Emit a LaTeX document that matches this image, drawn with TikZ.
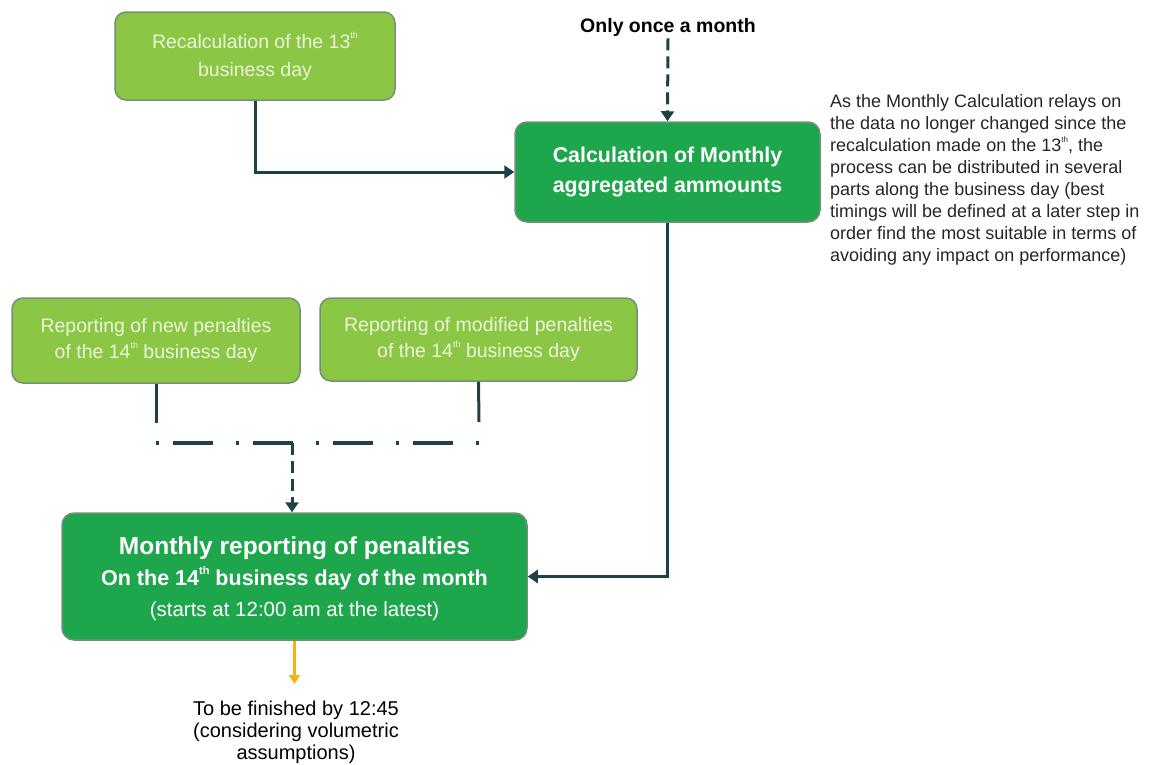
\documentclass[tikz,border=0pt]{standalone}
\usepackage{fontspec}
\setmainfont{Liberation Sans}
\usetikzlibrary{arrows.meta}
\definecolor{conn}{RGB}{30,65,72}
\definecolor{lightg}{RGB}{139,198,68}
\definecolor{darkg}{RGB}{29,166,76}
\definecolor{lighttxt}{RGB}{235,246,218}
\definecolor{bord}{RGB}{115,145,120}
\definecolor{orangea}{RGB}{245,180,20}
\newcommand\supth[1][9]{\raisebox{0.5em}{\fontsize{#1}{#1}\selectfont th}}
\tikzset{
  x=1pt,y=-1pt,
  lbox/.style={draw=bord,line width=1.5pt,fill=lightg,rounded corners=11pt,text=lighttxt,align=center,inner sep=0pt},
  dbox/.style={draw=bord,line width=1.5pt,fill=darkg,rounded corners=12pt,text=white,align=center,inner sep=0pt},
  conn/.style={draw=conn,line width=3pt,-{Triangle[length=10pt,width=13pt]}},
  cline/.style={draw=conn,line width=3pt},
  dashconn/.style={conn,dash pattern=on 12pt off 6pt},
}
\begin{document}
\begin{tikzpicture}
\useasboundingbox (0,0) rectangle (1157,764);
\node[lbox,minimum width=280pt,minimum height=88pt,font=\fontsize{19.5}{28}\selectfont] (recalc) at (255,56) {Recalculation of the 13\supth\\business day};
\node[dbox,minimum width=305pt,minimum height=100pt,font=\fontsize{21.4}{30}\selectfont\bfseries] (calc) at (667.5,172) {Calculation of Monthly\\aggregated ammounts};
\node[font=\fontsize{19.5}{22}\selectfont\bfseries,inner sep=2pt] (once) at (668,27) {Only once a month};
\node[anchor=north west,align=left,font=\fontsize{18}{22}\selectfont,text=black!85,inner sep=0pt] (note) at (830,94) {As the Monthly Calculation relays on\\the data no longer changed since the\\recalculation made on the 13\supth[8], the\\process can be distributed in several\\parts along the business day (best\\timings will be defined at a later step in\\order find the most suitable in terms of\\avoiding any impact on performance)};
\node[lbox,minimum width=288pt,minimum height=85pt,font=\fontsize{19.5}{26}\selectfont] (newpen) at (156,340.5) {Reporting of new penalties\\of the 14\supth\ business day};
\node[lbox,minimum width=317pt,minimum height=83pt,font=\fontsize{19.5}{26}\selectfont] (modpen) at (478.5,339.5) {Reporting of modified penalties\\of the 14\supth\ business day};
\node[dbox,minimum width=465pt,minimum height=127pt,font=\fontsize{20.5}{31}\selectfont,text depth=-3pt] (monthly) at (294.5,576.5) {{\fontsize{24.5}{31}\selectfont\bfseries Monthly reporting of penalties}\\{\fontsize{21.5}{31}\selectfont\bfseries On the 14\supth[11] business day of the month}\\(starts at 12:00 am at the latest)};
\node[align=center,font=\fontsize{20}{22}\selectfont,inner sep=0pt,anchor=north] (finish) at (296,701) {To be finished by 12:45\\(considering volumetric\\assumptions)};
\coordinate (j1) at (156,423);
\coordinate (j2) at (156,443);
\coordinate (j3) at (479,443);
\coordinate (j4) at (479,422);
\coordinate (jm) at (292,443);
\coordinate (fa) at (294.5,684);
\draw[conn] (recalc.south) |- (calc.west);
\draw[dashconn] (once.south) -- (calc.north);
\draw[conn] (calc.south) |- (monthly.east);
\draw[cline] (newpen.south) -- (j1);
\draw[cline] (modpen.south) -- (j4);
\draw[cline,line width=3.5pt,dash pattern=on 3pt off 14pt on 40pt off 23pt] (j2) -- (j3);
\draw[dashconn] (jm) -- (jm |- monthly.north);
\draw[draw=orangea,line width=2.5pt,-{Triangle[length=9pt,width=11pt]}] (monthly.south) -- (fa);
\end{tikzpicture}
\end{document}
